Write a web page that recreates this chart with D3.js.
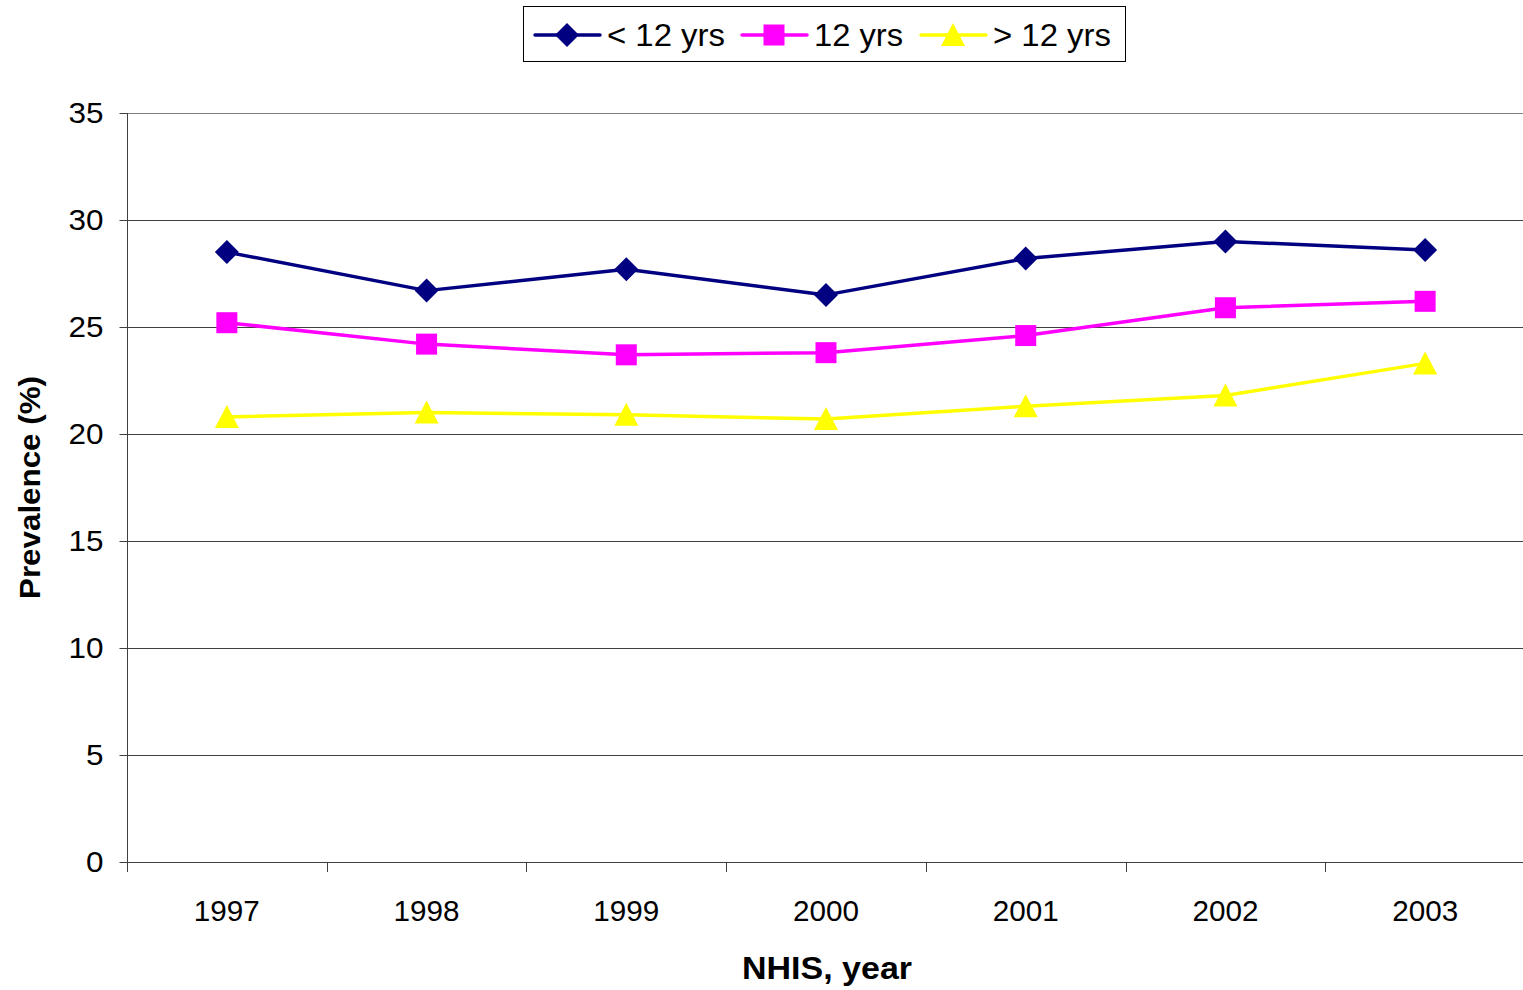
<!DOCTYPE html>
<html><head><meta charset="utf-8">
<script src="https://cdn.jsdelivr.net/npm/d3@7"></script>
<style>body{margin:0;background:#fff}svg{display:block;font-family:"Liberation Sans",Arial,sans-serif}</style>
</head><body><svg id="c" width="1523" height="990"></svg>
<script>
const years = ["1997","1998","1999","2000","2001","2002","2003"];
const lessThan12 = [28.5, 26.7, 27.7, 26.5, 28.2, 29.0, 28.6];
const exactly12 = [25.2, 24.2, 23.7, 23.8, 24.6, 25.9, 26.2];
const moreThan12 = [20.8, 21.0, 20.9, 20.7, 21.3, 21.8, 23.3];
const yTicks = [0, 5, 10, 15, 20, 25, 30, 35];
const seriesNames = ["< 12 yrs", "12 yrs", "> 12 yrs"];

const series = [
  {name: seriesNames[0], values: lessThan12, color: "#000080", shape: "diamond"},
  {name: seriesNames[1], values: exactly12, color: "#FF00FF", shape: "square"},
  {name: seriesNames[2], values: moreThan12, color: "#FFFF00", shape: "triangle"}
];

const svg = d3.select("#c");
const L = 127, R = 1525, T = 113, B = 862;
const x = d3.scaleBand().domain(years).range([L, R]);
const y = d3.scaleLinear().domain([0, 35]).range([B, T]);

// gridlines
svg.append("g").selectAll("line").data(yTicks.filter(d => d > 0)).join("line")
  .attr("x1", L).attr("x2", 1523)
  .attr("y1", d => Math.round(y(d)) + 0.5).attr("y2", d => Math.round(y(d)) + 0.5)
  .attr("stroke", d => d === 35 ? "#808080" : "#404040").attr("stroke-width", 1);

// y axis
const yAxis = svg.append("g").attr("transform", `translate(${L + 0.5},0)`)
  .call(d3.axisLeft(y).tickValues(yTicks).tickSize(8).tickPadding(16));
yAxis.select(".domain").attr("stroke", "#404040").attr("d", `M0,${T}V${B}`);
yAxis.selectAll(".tick line").attr("stroke", "#404040");
yAxis.selectAll(".tick text").attr("font-size", 30).attr("fill", "#000")
  .attr("font-family", "Liberation Sans, Arial, sans-serif")
  .attr("textLength", function(d){ return String(d).length * 17.5; })
  .attr("lengthAdjust", "spacingAndGlyphs");

// x axis
const xAxis = svg.append("g").attr("transform", `translate(0,${B + 0.5})`)
  .call(d3.axisBottom(x).tickSize(0).tickPadding(37));
xAxis.select(".domain").attr("stroke", "#404040").attr("d", `M${L},0H1523`);
xAxis.selectAll(".tick text").attr("font-size", 30).attr("fill", "#000")
  .attr("font-family", "Liberation Sans, Arial, sans-serif")
  .attr("textLength", 66).attr("lengthAdjust", "spacingAndGlyphs");
// band boundary ticks
const bounds = years.map(d => x(d)).concat([R]).filter(v => v < 1523);
svg.append("g").selectAll("line").data(bounds).join("line")
  .attr("x1", d => Math.round(d) + 0.5).attr("x2", d => Math.round(d) + 0.5)
  .attr("y1", B).attr("y2", B + 10).attr("stroke", "#404040");

// axis titles
svg.append("text").attr("transform", `translate(40,${(T + B) / 2 + 0}) rotate(-90)`)
  .attr("text-anchor", "middle").attr("font-weight", "bold").attr("font-size", 30)
  .attr("textLength", 223).attr("lengthAdjust", "spacingAndGlyphs")
  .text("Prevalence (%)");
svg.append("text").attr("x", 827).attr("y", 979).attr("text-anchor", "middle")
  .attr("font-weight", "bold").attr("font-size", 32)
  .attr("textLength", 170).attr("lengthAdjust", "spacingAndGlyphs")
  .text("NHIS, year");

function marker(g, shape, color, cx, cy) {
  if (shape === "diamond") {
    g.append("path").attr("d", `M${cx},${cy - 12}L${cx + 12},${cy}L${cx},${cy + 12}L${cx - 12},${cy}Z`).attr("fill", color);
  } else if (shape === "square") {
    g.append("rect").attr("x", cx - 10.5).attr("y", cy - 10.5).attr("width", 21).attr("height", 21).attr("fill", color);
  } else {
    g.append("path").attr("d", `M${cx},${cy - 12}L${cx + 12},${cy + 11}L${cx - 12},${cy + 11}Z`).attr("fill", color);
  }
}

const line = d3.line().x((d, i) => x(years[i]) + x.bandwidth() / 2).y(d => y(d));
series.forEach(s => {
  const g = svg.append("g");
  g.append("path").attr("d", line(s.values)).attr("fill", "none")
    .attr("stroke", s.color).attr("stroke-width", 3.5).attr("stroke-linejoin", "round");
  s.values.forEach((v, i) => marker(g, s.shape, s.color, x(years[i]) + x.bandwidth() / 2, y(v)));
});

// legend
const lg = svg.append("g");
lg.append("rect").attr("x", 523.5).attr("y", 6.5).attr("width", 602).attr("height", 55)
  .attr("fill", "#fff").attr("stroke", "#000");
const lx = [535, 742, 921];
const lw = [118, 89, 118];
series.forEach((s, i) => {
  lg.append("line").attr("x1", lx[i]).attr("x2", lx[i] + 65).attr("y1", 35).attr("y2", 35)
    .attr("stroke", s.color).attr("stroke-width", 3.5).attr("stroke-linecap", "round");
  marker(lg, s.shape, s.color, lx[i] + 32, 35);
  lg.append("text").attr("x", lx[i] + 72).attr("y", 46).attr("font-size", 31)
    .attr("textLength", lw[i]).attr("lengthAdjust", "spacingAndGlyphs").text(s.name);
});
</script></body></html>
